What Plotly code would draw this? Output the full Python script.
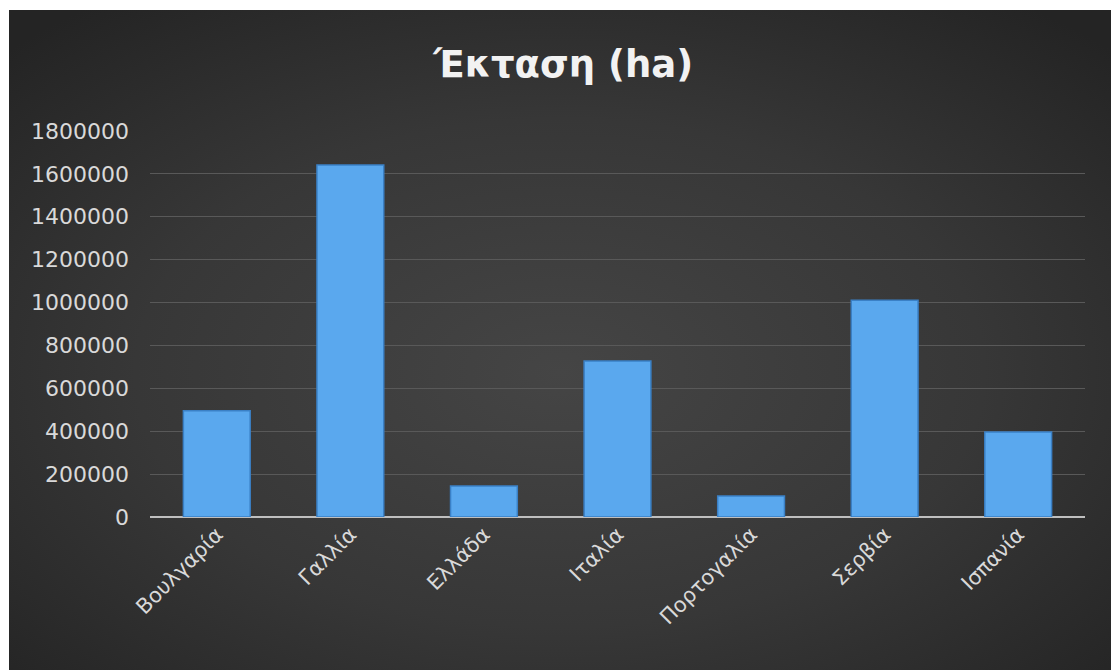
import base64
import plotly.graph_objects as go

categories = ["Βουλγαρία", "Γαλλία", "Ελλάδα", "Ιταλία", "Πορτογαλία", "Σερβία", "Ισπανία"]
values = [495000, 1641000, 145000, 727000, 98000, 1011000, 396000]
y_ticks = [0, 200000, 400000, 600000, 800000, 1000000, 1200000, 1400000, 1600000, 1800000]

W, H = 1111, 670
L, R, T, B = 150, 26, 131, 153
pw, ph = W - L - R, H - T - B

svg = (
    '<svg xmlns="http://www.w3.org/2000/svg" width="1102" height="660" viewBox="0 0 1102 660">'
    '<defs><radialGradient id="g" cx="50%" cy="55%" r="70%">'
    '<stop offset="0%" stop-color="#454545"/>'
    '<stop offset="55%" stop-color="#373737"/>'
    '<stop offset="100%" stop-color="#242424"/>'
    '</radialGradient></defs>'
    '<rect width="1102" height="660" fill="url(#g)"/></svg>'
)
src = "data:image/svg+xml;base64," + base64.b64encode(svg.encode()).decode()

x0 = (9 - L) / pw
x1 = (W - L) / pw
y_top = (H - B - 10) / ph
y_bot = (H - B - H) / ph

FONT = "DejaVu Sans, Open Sans, sans-serif"

fig = go.Figure()
fig.add_trace(go.Bar(
    x=categories, y=values,
    marker=dict(color="#5aa8ee", line=dict(color="#3a80c6", width=1.5)),
    width=0.5,
))

fig.update_layout(
    width=W, height=H,
    margin=dict(l=L, r=R, t=T, b=B),
    paper_bgcolor="white",
    plot_bgcolor="rgba(0,0,0,0)",
    showlegend=False,
    font=dict(family=FONT, color="#d9d9d9"),
    title=dict(text="<b>Έκταση (ha)</b>", x=0.507, xanchor="center", y=1 - 64 / H, yanchor="middle",
               font=dict(size=37, color="#f2f2f2", family=FONT)),
    images=[dict(source=src, xref="paper", yref="paper", x=x0, y=y_top,
                 sizex=x1 - x0, sizey=y_top - y_bot, xanchor="left", yanchor="top",
                 sizing="stretch", layer="below")],
)
fig.update_xaxes(
    tickangle=-45, tickfont=dict(size=21, color="#d9d9d9", family=FONT),
    showgrid=False, showline=False, ticks="",
)
fig.update_yaxes(
    range=[0, 1800000], tickvals=y_ticks, ticktext=[str(v) for v in y_ticks],
    tickfont=dict(size=22, color="#d9d9d9", family=FONT),
    ticklabelstandoff=20,
    showgrid=True, gridcolor="#595959", gridwidth=1,
    zeroline=True, zerolinecolor="#bfbfbf", zerolinewidth=2,
    ticks="", ticklen=0, showline=False,
)

fig.write_html("out.html")
